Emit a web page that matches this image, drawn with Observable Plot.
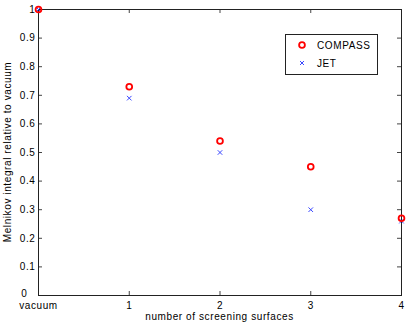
<!DOCTYPE html>
<html><head><meta charset="utf-8">
<script src="https://cdn.jsdelivr.net/npm/d3@7"></script>
<script src="https://cdn.jsdelivr.net/npm/@observablehq/plot@0.6"></script>
<style>body{margin:0;background:#fff;} svg{font-family:"Liberation Sans",Arial,sans-serif;}</style>
</head><body><div id="chart"></div>
<script>
const surfaces = [0, 1, 2, 3, 4];
const compass = [1.0, 0.73, 0.54, 0.45, 0.27];
const jet = [1.0, 0.69, 0.50, 0.30, 0.26];
const xTicks = [0, 1, 2, 3, 4];
const xTickLabels = ["vacuum", "1", "2", "3", "4"];
const yTicks = [0, 0.1, 0.2, 0.3, 0.4, 0.5, 0.6, 0.7, 0.8, 0.9, 1];
const seriesNames = ["COMPASS", "JET"];

const compassData = surfaces.map((s, i) => ({x: s, y: compass[i]}));
const jetData = surfaces.map((s, i) => ({x: s, y: jet[i]}));

const plot = Plot.plot({
  width: 409, height: 325,
  marginLeft: 38, marginRight: 8, marginTop: 9, marginBottom: 30,
  style: {fontFamily: "Liberation Sans, Arial, sans-serif", fontSize: "10px", color: "black", background: "white", letterSpacing: "0.6px"},
  x: {domain: [0, 4]},
  y: {domain: [0, 1]},
  marks: [
    Plot.axisX({ticks: xTicks, tickSize: 0, tickPadding: 6, tickFormat: d => xTickLabels[xTicks.indexOf(d)], label: null, fontSize: 10, fill: "black"}),
    Plot.axisY({ticks: yTicks.filter(d => d !== 0), tickSize: 0, tickPadding: 3, tickFormat: d => String(d), label: null, fontSize: 10, fill: "black"}),
    Plot.axisY({ticks: yTicks.filter(d => d === 0), tickSize: 0, tickPadding: 3, dx: -8, dy: -1.5, tickFormat: d => String(d), label: null, fontSize: 10, fill: "black"}),
    Plot.tickX(xTicks, {x: d => d, stroke: "#444", insetTop: 282}),
    Plot.tickX(xTicks, {x: d => d, stroke: "#444", insetBottom: 282}),
    Plot.tickY(yTicks, {y: d => d, stroke: "#444", insetRight: 359}),
    Plot.tickY(yTicks, {y: d => d, stroke: "#444", insetLeft: 359}),
    Plot.frame({stroke: "#222", strokeWidth: 1}),
    Plot.dot(jetData, {x: "x", y: "y", symbol: "times", r: 2.2, stroke: "#3a48ff", strokeWidth: 1}),
    Plot.dot(compassData, {x: "x", y: "y", symbol: "circle", r: 2.9, stroke: "#ff0000", strokeWidth: 1.8, fill: "none"})
  ]
});
document.getElementById("chart").appendChild(plot);

const svg = d3.select(plot);
const xr = plot.scale("x").range, yr = plot.scale("y").range;
// axis titles
svg.append("text").attr("x", (xr[0] + xr[1]) / 2).attr("y", 320)
  .attr("text-anchor", "middle").attr("font-size", 10).attr("fill", "black")
  .text("number of screening surfaces");
svg.append("text").attr("transform", `translate(10.5,${(yr[0] + yr[1]) / 2}) rotate(-90)`)
  .attr("text-anchor", "middle").attr("font-size", 10).attr("fill", "black")
  .text("Melnikov integral relative to vacuum");
// legend
const lg = svg.append("g");
lg.append("rect").attr("x", 285.5).attr("y", 34.5).attr("width", 92).attr("height", 40)
  .attr("fill", "white").attr("stroke", "#222");
lg.append("circle").attr("cx", 302).attr("cy", 45).attr("r", 2.9)
  .attr("fill", "none").attr("stroke", "#ff0000").attr("stroke-width", 1.8);
lg.append("path").attr("d", "M300,61L304,65M304,61L300,65").attr("stroke", "#3a48ff").attr("stroke-width", 1);
lg.append("text").attr("x", 317).attr("y", 48.5).attr("text-anchor", "start").attr("font-size", 10).attr("fill", "black").text(seriesNames[0]);
lg.append("text").attr("x", 317).attr("y", 66.5).attr("text-anchor", "start").attr("font-size", 10).attr("fill", "black").text(seriesNames[1]);
</script></body></html>
